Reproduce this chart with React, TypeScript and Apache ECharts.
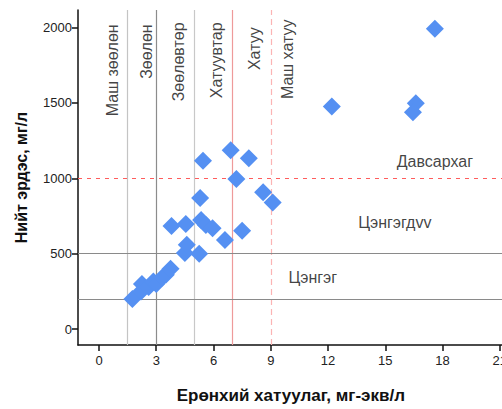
import React, { useEffect, useRef } from "react";
import * as echarts from "echarts";

const xTicks = [0, 3, 6, 9, 12, 15, 18, 21];
const yTicks = [0, 500, 1000, 1500, 2000];

const hardness = [1.75, 2.2, 2.25, 2.6, 2.85, 3.0, 3.3, 3.5, 3.75, 4.5, 4.6, 5.25, 3.8, 4.55, 5.35, 5.6, 5.95, 6.6, 7.5, 5.3, 5.45, 6.9, 7.85, 7.2, 8.6, 9.1, 12.2, 16.6, 16.45, 17.6];
const minerals = [200, 250, 300, 280, 316, 300, 340, 360, 400, 505, 560, 500, 684, 697, 723, 690, 669, 590, 652, 869, 1116, 1185, 1133, 995, 908, 839, 1475, 1497, 1438, 1991];

const hardnessClassNames = ["Маш зөөлөн", "Зөөлөн", "Зөөлөвтөр", "Хатуувтар", "Хатуу", "Маш хатуу"];
const hardnessClassX = [0.73, 2.51, 4.14, 6.18, 8.17, 9.9];
const hardnessClassY = [2020, 2020, 2033, 2033, 2000, 2052];

const mineralClassNames = ["Давсархаг", "Цэнгэгдvv", "Цэнгэг"];
const mineralClassX = [17.6, 15.5, 11.2];
const mineralClassY = [1111, 706, 340];

const vLines = [1.5, 3, 5, 7, 9];
const hLines = [1000, 500, 200];

const FONT = "'Liberation Sans', Arial, sans-serif";

export default function App() {
  const ref = useRef<HTMLDivElement>(null);
  useEffect(() => {
    document.body.style.margin = "0";
    document.body.style.overflow = "hidden";
    const chart = echarts.init(ref.current!, undefined, { renderer: "svg" });
    const vStyles = [
      { color: "#c4c4c4", width: 1.2, type: "solid" },
      { color: "#8c8c8c", width: 1.2, type: "solid" },
      { color: "#c8c8c8", width: 1.2, type: "solid" },
      { color: "#ee9a9a", width: 1.2, type: "solid" },
      { color: "#fbb4b4", width: 1.2, type: [6, 4] },
    ];
    const hStyles = [
      { color: "#ff5c5c", width: 1, type: [4, 5] },
      { color: "#8a8a8a", width: 1.2, type: "solid" },
      { color: "#8a8a8a", width: 1.2, type: "solid" },
    ];
    chart.setOption({
      animation: false,
      grid: { left: 78, top: 10, width: 426, height: 340, containLabel: false },
      xAxis: {
        type: "value",
        min: -1.1,
        max: 21.2,
        name: "Ерөнхий хатуулаг, мг-экв/л",
        nameLocation: "middle",
        nameGap: 42,
        nameTextStyle: { fontFamily: FONT, fontWeight: "bold", fontSize: 17, color: "#111" },
        axisLine: { onZero: false, lineStyle: { color: "#111", width: 1.5 } },
        axisTick: { show: true, length: 6, customValues: xTicks, lineStyle: { color: "#111", width: 1.5 } },
        axisLabel: { customValues: xTicks, fontFamily: FONT, fontSize: 13, color: "#222", margin: 9 },
        splitLine: { show: false },
      },
      yAxis: {
        type: "value",
        min: -105,
        max: 2115,
        name: "Нийт эрдэс, мг/л",
        nameLocation: "middle",
        nameGap: 49,
        nameTextStyle: { fontFamily: FONT, fontWeight: "bold", fontSize: 16, color: "#111" },
        axisLine: { onZero: false, lineStyle: { color: "#111", width: 1.5 } },
        axisTick: { show: true, length: 6, customValues: yTicks, lineStyle: { color: "#111", width: 1.5 } },
        axisLabel: {
          customValues: yTicks,
          formatter: (v: number) => String(v),
          fontFamily: FONT,
          fontSize: 13,
          color: "#222",
          margin: 6,
        },
        splitLine: { show: false },
      },
      series: [
        {
          type: "scatter",
          data: [],
          silent: true,
          markLine: {
            silent: true,
            symbol: ["none", "none"],
            label: { show: false },
            data: [
              ...vLines.map((v, i) => ({ xAxis: v, lineStyle: vStyles[i] })),
              ...hLines.map((v, i) => ({ yAxis: v, lineStyle: hStyles[i] })),
            ],
          },
        },
        {
          type: "scatter",
          symbol: "diamond",
          symbolSize: 18,
          itemStyle: { color: "#5590f2", opacity: 1 },
          data: hardness.map((h, i) => [h, minerals[i]]),
          z: 5,
        },
        {
          type: "scatter",
          symbolSize: 0,
          silent: true,
          data: hardnessClassNames.map((n, i) => ({ name: n, value: [hardnessClassX[i], hardnessClassY[i]] })),
          label: {
            show: true,
            formatter: "{b}",
            rotate: 90,
            position: "inside",
            align: "right",
            verticalAlign: "middle",
            fontFamily: FONT,
            fontSize: 16,
            color: "#111",
          },
        },
        {
          type: "scatter",
          symbolSize: 0,
          silent: true,
          data: mineralClassNames.map((n, i) => ({ name: n, value: [mineralClassX[i], mineralClassY[i]] })),
          label: {
            show: true,
            formatter: "{b}",
            position: "inside",
            align: "center",
            verticalAlign: "middle",
            fontFamily: FONT,
            fontSize: 16,
            color: "#111",
          },
        },
      ],
    });
    return () => chart.dispose();
  }, []);
  return <div ref={ref} style={{ width: 510, height: 409 }} />;
}
